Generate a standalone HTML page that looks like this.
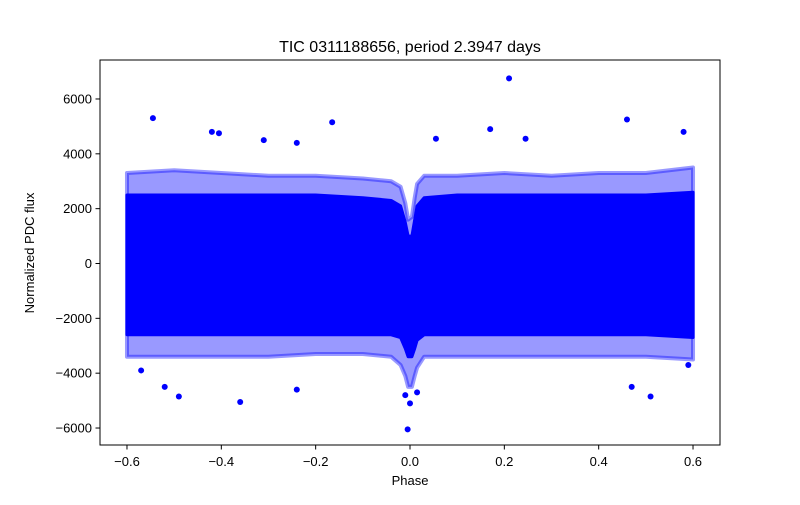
<!DOCTYPE html>
<html><head><meta charset="utf-8"><style>
html,body{margin:0;padding:0;background:#fff;}
svg text{font-family:"Liberation Sans","DejaVu Sans",sans-serif;}
</style></head><body>
<svg id="chart" width="800" height="500" viewBox="0 0 800 500">
<rect x="0" y="0" width="800" height="500" fill="#fff"/>
<text x="410" y="52" font-size="16" text-anchor="middle">TIC 0311188656, period 2.3947 days</text>
<g id="marks"></g>
<rect x="100" y="60" width="620" height="385" fill="none" stroke="#000" stroke-width="1"/>
<g id="axes"></g>
<text x="410" y="485" font-size="13" text-anchor="middle">Phase</text>
<text x="34" y="253" font-size="13" text-anchor="middle" transform="rotate(-90 34 253)">Normalized PDC flux</text>
</svg>
<script>
// Binned envelopes
const phaseBins = [-0.6,-0.5,-0.4,-0.3,-0.2,-0.1,-0.04,-0.02,-0.01,-0.004,0.004,0.01,0.015,0.03,0.1,0.2,0.3,0.4,0.5,0.6];
const coreUpper = [2500,2500,2500,2500,2500,2400,2300,2100,1500,1000,1000,1600,2100,2400,2500,2500,2500,2500,2500,2600];
const coreLower = [-2600,-2600,-2600,-2600,-2600,-2600,-2600,-2700,-3100,-3400,-3400,-3100,-2800,-2600,-2600,-2600,-2600,-2600,-2600,-2700];
const outerUpper = [3300,3400,3300,3200,3200,3100,3000,2800,2200,1600,1700,2400,2900,3200,3200,3300,3200,3300,3300,3500];
const outerLower = [-3400,-3400,-3400,-3400,-3300,-3300,-3400,-3700,-4100,-4500,-4500,-4100,-3800,-3400,-3400,-3400,-3400,-3400,-3400,-3500];
const outlierPhase = [-0.545,-0.42,-0.405,-0.31,-0.24,-0.165,0.17,0.21,0.245,0.46,0.58,0.055,-0.49,-0.36,-0.24,-0.005,0.0,0.51,0.47,-0.52,-0.01,0.015,-0.57,0.59];
const outlierFlux = [5300,4800,4750,4500,4400,5150,4900,6750,4550,5250,4800,4550,-4850,-5050,-4600,-6050,-5100,-4850,-4500,-4500,-4800,-4700,-3900,-3700];
const xTicks = [-0.6,-0.4,-0.2,0.0,0.2,0.4,0.6];
const xTickLabels = ["\u22120.6","\u22120.4","\u22120.2","0.0","0.2","0.4","0.6"];
const yTicks = [-6000,-4000,-2000,0,2000,4000,6000];
const yTickLabels = ["\u22126000","\u22124000","\u22122000","0","2000","4000","6000"];

const NS="http://www.w3.org/2000/svg";
function xs(p){return 410 + p*471.7;}
function ys(v){return 263.5 - v*0.02742;}
const marks=document.getElementById('marks');
const axes=document.getElementById('axes');
function band(up,lo,opacity,name,sw){
  let pts=[];
  for(let i=0;i<phaseBins.length;i++) pts.push(xs(phaseBins[i])+','+ys(up[i]));
  for(let i=phaseBins.length-1;i>=0;i--) pts.push(xs(phaseBins[i])+','+ys(lo[i]));
  const pg=document.createElementNS(NS,'polygon');
  pg.setAttribute('points',pts.join(' '));
  pg.setAttribute('fill','#0000ff');
  pg.setAttribute('fill-opacity',opacity);
  pg.setAttribute('stroke','#0000ff');
  pg.setAttribute('stroke-opacity',opacity);
  pg.setAttribute('stroke-width',sw);
  pg.setAttribute('stroke-linejoin','round');
  
  
  marks.appendChild(pg);
}
band(outerUpper,outerLower,0.4,'outer-scatter-band',4);
band(coreUpper,coreLower,1,'core-scatter-band',3);
for(let i=0;i<outlierPhase.length;i++){
  const c=document.createElementNS(NS,'circle');
  c.setAttribute('cx',xs(outlierPhase[i]));
  c.setAttribute('cy',ys(outlierFlux[i]));
  c.setAttribute('r','3');
  c.setAttribute('fill','#0000ff');
  
  
  marks.appendChild(c);
}
for(let i=0;i<xTicks.length;i++){
  const x=xs(xTicks[i]);
  const l=document.createElementNS(NS,'line');
  l.setAttribute('x1',x);l.setAttribute('x2',x);l.setAttribute('y1',445);l.setAttribute('y2',449.5);
  l.setAttribute('stroke','#000');
  
  
  axes.appendChild(l);
  const t=document.createElementNS(NS,'text');
  t.setAttribute('x',x);t.setAttribute('y',466);t.setAttribute('font-size','13');t.setAttribute('text-anchor','middle');
  t.textContent=xTickLabels[i];
  
  
  axes.appendChild(t);
}
for(let i=0;i<yTicks.length;i++){
  const y=ys(yTicks[i]);
  const l=document.createElementNS(NS,'line');
  l.setAttribute('x1',95.5);l.setAttribute('x2',100);l.setAttribute('y1',y);l.setAttribute('y2',y);
  l.setAttribute('stroke','#000');
  
  
  axes.appendChild(l);
  const t=document.createElementNS(NS,'text');
  t.setAttribute('x',92);t.setAttribute('y',y+4.5);t.setAttribute('font-size','13');t.setAttribute('text-anchor','end');
  t.textContent=yTickLabels[i];
  
  
  axes.appendChild(t);
}
</script>
</body></html>
